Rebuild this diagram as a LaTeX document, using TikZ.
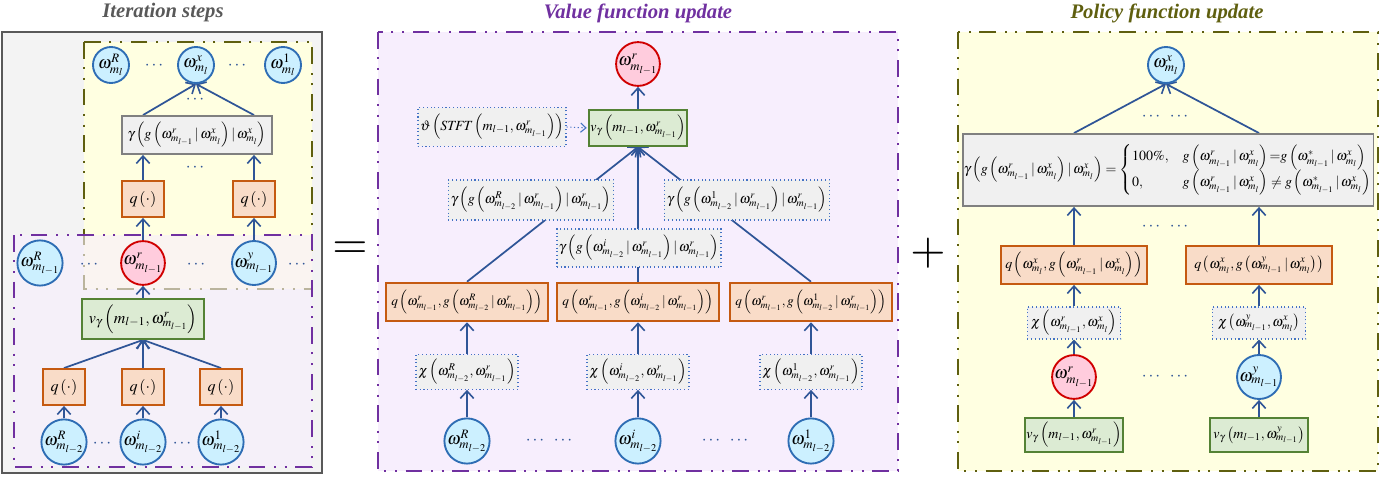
\documentclass[tikz,border=0pt]{standalone}
\usepackage{amsmath}
\usepackage{mathptmx}
\usepackage{fontspec}
\setmainfont{Liberation Serif}
\usetikzlibrary{arrows.meta}
\pgfdeclarelayer{panels}
\pgfdeclarelayer{edges}
\pgfsetlayers{panels,edges,main}
\definecolor{edgeblue}{HTML}{2F5597}
\definecolor{circblue}{HTML}{2E6DB4}
\definecolor{circfill}{HTML}{CCF0FF}
\definecolor{redline}{HTML}{D00000}
\definecolor{redfill}{HTML}{FFCCDD}
\definecolor{orline}{HTML}{C55A11}
\definecolor{orfill}{HTML}{F9DCC8}
\definecolor{grline}{HTML}{548235}
\definecolor{grfill}{HTML}{DCEBD3}
\definecolor{gyline}{HTML}{808080}
\definecolor{gyfill}{HTML}{F0F0F0}
\definecolor{dotline}{HTML}{4472C4}
\definecolor{purp}{HTML}{7030A0}
\definecolor{purfill}{HTML}{F7EEFD}
\definecolor{oliv}{HTML}{5F5F0F}
\definecolor{olfill}{HTML}{FFFFE1}
\definecolor{outgray}{HTML}{595959}
\definecolor{outfill}{HTML}{F3F3F3}
\newcommand{\PP}[1]{\left(#1\right)}
\newcommand{\wm}[2]{\omega^{#1}_{m_{#2}}}
\tikzset{
  circ/.style={circle, draw=circblue, fill=circfill, line width=1.4pt, minimum size=27pt, inner sep=0pt, font=\fontsize{13}{13}\selectfont},
  rcirc/.style={circ, draw=redline, fill=redfill},
  boxbase/.style={rectangle, inner sep=1pt, font=\fontsize{10.5}{12}\selectfont},
  smallf/.style={font=\fontsize{10}{12}\selectfont},
  obox/.style={boxbase, draw=orline, fill=orfill, line width=1.4pt},
  gbox/.style={boxbase, draw=grline, fill=grfill, line width=1.4pt},
  ybox/.style={boxbase, draw=gyline, fill=gyfill, line width=1.4pt},
  dbox/.style={boxbase, draw=dotline, fill=gyfill, line width=0.8pt, dotted},
  arr/.style={draw=edgeblue, line width=1.3pt, -{Straight Barb[length=5.5pt,width=10pt,line width=1.2pt]}},
  darr/.style={draw=dotline, line width=0.8pt, dotted, -{Straight Barb[length=4pt,width=7pt,line width=0.8pt,sep]}},
  dd/.style={text=edgeblue, inner sep=0pt, font=\fontsize{13}{13}\selectfont},
  dashdots/.style={dash pattern=on 12.5pt off 6.5pt on 1.5pt off 6.5pt on 1.5pt off 6.5pt},
  purpanel/.style={draw=purp, line width=2.2pt, fill=purfill, dashdots},
  olpanel/.style={draw=oliv, line width=2.2pt, fill=olfill, dashdots},
  ttl/.style={font=\fontsize{15.5}{15.5}\selectfont\bfseries\itshape}
}
\begin{document}
\begin{tikzpicture}[x=0.75pt,y=-0.75pt]
\useasboundingbox (0,0) rectangle (1386,478);
% titles
\node[ttl, text=outgray] (t1) at (163,13) {Iteration steps};
\node[ttl, text=purp] (t2) at (638,13) {Value function update};
\node[ttl, text=oliv] (t3) at (1167,13) {Policy function update};
\node[font=\fontsize{34}{34}\selectfont] (eq) at (350,250) {$=$};
\node[font=\fontsize{34}{34}\selectfont] (pl) at (928,253) {$+$};

% ---------- left panel ----------
\node[circ] (wR) at (111,65) {$\wm{R}{l}$};
\node[circ] (wx) at (196,65) {$\wm{x}{l}$};
\node[circ] (w1) at (283,65) {$\wm{1}{l}$};
\node[dd] (d1) at (155,66) {$\cdots$};
\node[dd] (d2) at (238,66) {$\cdots$};
\node[dd] (d3) at (196,100) {$\cdots$};
\node[ybox, minimum width=112pt, minimum height=28.5pt] (gL) at (197,135) {$\gamma\PP{g\PP{\wm{r}{l-1}\,|\,\wm{x}{l}}|\,\wm{x}{l}}$};
\node[dd] (d4) at (196,168) {$\cdots$};
\node[obox, minimum width=32pt, minimum height=27pt, font=\fontsize{12}{13}\selectfont] (qa1) at (143,199) {$q\PP{\cdot}$};
\node[obox, minimum width=32pt, minimum height=27pt, font=\fontsize{12}{13}\selectfont] (qa2) at (254,199) {$q\PP{\cdot}$};
\node[circ] (wRl) at (40,263) {$\wm{R}{l-1}$};
\node[rcirc] (wr) at (143,263) {$\wm{r}{l-1}$};
\node[circ] (wy) at (254,263) {$\wm{y}{l-1}$};
\node[dd] (d5) at (90,265) {$\cdots$};
\node[dd] (d6) at (197,265) {$\cdots$};
\node[dd] (d7) at (298,265) {$\cdots$};
\node[gbox, minimum width=91.5pt, minimum height=30pt, font=\fontsize{12}{13}\selectfont] (vL) at (143,319) {$v_\gamma\PP{m_{l-1},\wm{r}{l-1}}$};
\node[obox, minimum width=32pt, minimum height=27pt, font=\fontsize{12}{13}\selectfont] (qb1) at (64,387) {$q\PP{\cdot}$};
\node[obox, minimum width=32pt, minimum height=27pt, font=\fontsize{12}{13}\selectfont] (qb2) at (143,387) {$q\PP{\cdot}$};
\node[obox, minimum width=32pt, minimum height=27pt, font=\fontsize{12}{13}\selectfont] (qb3) at (221,387) {$q\PP{\cdot}$};
\node[circ] (wb1) at (64,442) {$\wm{R}{l-2}$};
\node[circ] (wb2) at (143,442) {$\wm{i}{l-2}$};
\node[circ] (wb3) at (221,442) {$\wm{1}{l-2}$};
\node[dd] (d8) at (103,444) {$\cdots$};
\node[dd] (d9) at (183,444) {$\cdots$};

% ---------- middle panel ----------
\node[rcirc] (mr) at (638,64) {$\wm{r}{l-1}$};
\node[gbox, minimum width=73pt, minimum height=27pt] (vM) at (638,128) {$v_\gamma\PP{m_{l-1},\wm{r}{l-1}}$};
\node[dbox, minimum width=111pt, minimum height=29pt] (st) at (492,127) {$\vartheta\PP{\mathit{STFT}\PP{m_{l-1},\wm{r}{l-1}}}$};
\node[dbox, minimum width=124pt, minimum height=30pt] (gR) at (531,200) {$\gamma\PP{g\PP{\wm{R}{l-2}\,|\,\wm{r}{l-1}}|\,\wm{r}{l-1}}$};
\node[dbox, minimum width=124pt, minimum height=30pt] (g1) at (747,200) {$\gamma\PP{g\PP{\wm{1}{l-2}\,|\,\wm{r}{l-1}}|\,\wm{r}{l-1}}$};
\node[dbox, minimum width=123pt, minimum height=28.5pt] (gi) at (639,248) {$\gamma\PP{g\PP{\wm{i}{l-2}\,|\,\wm{r}{l-1}}|\,\wm{r}{l-1}}$};
\node[obox, smallf, minimum width=121.5pt, minimum height=29pt] (oR) at (467,302) {$q\PP{\wm{r}{l-1},g\PP{\wm{R}{l-2}\,|\,\wm{r}{l-1}}}$};
\node[obox, smallf, minimum width=121.5pt, minimum height=29pt] (oi) at (638,302) {$q\PP{\wm{r}{l-1},g\PP{\wm{i}{l-2}\,|\,\wm{r}{l-1}}}$};
\node[obox, smallf, minimum width=121.5pt, minimum height=29pt] (o1) at (811,302) {$q\PP{\wm{r}{l-1},g\PP{\wm{1}{l-2}\,|\,\wm{r}{l-1}}}$};
\node[dbox, minimum width=76.5pt, minimum height=26pt] (cR) at (467,372) {$\chi\PP{\wm{R}{l-2},\wm{r}{l-1}}$};
\node[dbox, minimum width=76.5pt, minimum height=26pt] (ci) at (638,372) {$\chi\PP{\wm{i}{l-2},\wm{r}{l-1}}$};
\node[dbox, minimum width=76.5pt, minimum height=26pt] (c1) at (811,372) {$\chi\PP{\wm{1}{l-2},\wm{r}{l-1}}$};
\node[circ] (bR) at (467,441) {$\wm{R}{l-2}$};
\node[circ] (bi) at (638,441) {$\wm{i}{l-2}$};
\node[circ] (b1) at (811,441) {$\wm{1}{l-2}$};
\node[dd] (d10) at (536,441) {$\cdots$};
\node[dd] (d11) at (564,441) {$\cdots$};
\node[dd] (d12) at (712,441) {$\cdots$};
\node[dd] (d13) at (740,441) {$\cdots$};

% ---------- policy panel ----------
\node[circ] (px) at (1166,65) {$\wm{x}{l}$};
\node[dd] (d14) at (1152,117) {$\cdots$};
\node[dd] (d15) at (1180,117) {$\cdots$};
\node[ybox, minimum width=307pt, minimum height=54pt] (big) at (1168,170) {$\gamma\PP{g\PP{\wm{r}{l-1}\,|\,\wm{x}{l}}|\,\wm{x}{l}}=\begin{cases}100\%, & g\PP{\wm{r}{l-1}\,|\,\wm{x}{l}}{=}g\PP{\wm{*}{l-1}\,|\,\wm{x}{l}}\\[3pt] 0, & g\PP{\wm{r}{l-1}\,|\,\wm{x}{l}}\neq g\PP{\wm{*}{l-1}\,|\,\wm{x}{l}}\end{cases}$};
\node[dd] (d16) at (1152,227) {$\cdots$};
\node[dd] (d17) at (1180,227) {$\cdots$};
\node[obox, minimum width=109.5pt, minimum height=28.5pt] (po1) at (1074,265) {$q\PP{\wm{x}{l},g\PP{\wm{r}{l-1}\,|\,\wm{x}{l}}}$};
\node[obox, minimum width=109.5pt, minimum height=28.5pt] (po2) at (1259,265) {$q\PP{\wm{x}{l},g\PP{\wm{y}{l-1}\,|\,\wm{x}{l}}}$};
\node[dbox, minimum width=70pt, minimum height=24pt] (pc1) at (1074,323) {$\chi\PP{\wm{r}{l-1},\wm{x}{l}}$};
\node[dbox, minimum width=70pt, minimum height=24pt] (pc2) at (1259,323) {$\chi\PP{\wm{y}{l-1},\wm{x}{l}}$};
\node[rcirc] (pr) at (1074,377) {$\wm{r}{l-1}$};
\node[circ] (py) at (1259,377) {$\wm{y}{l-1}$};
\node[dd] (d18) at (1152,377) {$\cdots$};
\node[dd] (d19) at (1180,377) {$\cdots$};
\node[gbox, minimum width=73pt, minimum height=25.5pt] (pv1) at (1074,435) {$v_\gamma\PP{m_{l-1},\wm{r}{l-1}}$};
\node[gbox, minimum width=73pt, minimum height=25.5pt] (pv2) at (1259,435) {$v_\gamma\PP{m_{l-1},\wm{y}{l-1}}$};

% ---------- panels ----------
\begin{pgfonlayer}{panels}
\draw[draw=outgray, fill=outfill, line width=1.5pt] (2,32) rectangle (322,473);
\draw[olpanel] (84,42) rectangle (312,289);
\draw[purpanel, fill opacity=0.6] (14,235) rectangle (312,467);
\draw[purpanel] (378,32) rectangle (898,471);
\draw[olpanel] (958,32) rectangle (1378,471);
\end{pgfonlayer}

% ---------- edges ----------
\begin{pgfonlayer}{edges}
% left
\draw[arr] (qa1.north |- gL.north) -- (wx.south);
\draw[arr] (qa2.north |- gL.north) -- (wx.south);
\draw[arr] (qa1.north) -- (qa1.north |- gL.south);
\draw[arr] (qa2.north) -- (qa2.north |- gL.south);
\draw[arr] (wr.north) -- (qa1.south);
\draw[arr] (wy.north) -- (qa2.south);
\draw[arr] (vL.north) -- (wr.south);
\draw[arr] (qb1.north) -- (vL.south);
\draw[arr] (qb2.north) -- (vL.south);
\draw[arr] (qb3.north) -- (vL.south);
\draw[arr] (wb1.north) -- (qb1.south);
\draw[arr] (wb2.north) -- (qb2.south);
\draw[arr] (wb3.north) -- (qb3.south);
% middle
\draw[arr] (vM.north) -- (mr.south);
\draw[darr] (st.east) -- (vM.west);
\draw[arr] (oR.north) -- (vM.south);
\draw[arr] (oi.north) -- (vM.south);
\draw[arr] (o1.north) -- (vM.south);
\draw[arr] (cR.north) -- (oR.south);
\draw[arr] (ci.north) -- (oi.south);
\draw[arr] (c1.north) -- (o1.south);
\draw[arr] (bR.north) -- (cR.south);
\draw[arr] (bi.north) -- (ci.south);
\draw[arr] (b1.north) -- (c1.south);
% policy
\draw[arr] (po1.north |- big.north) -- (px.south);
\draw[arr] (po2.north |- big.north) -- (px.south);
\draw[arr] (po1.north) -- (po1.north |- big.south);
\draw[arr] (po2.north) -- (po2.north |- big.south);
\draw[arr] (pc1.north) -- (po1.south);
\draw[arr] (pc2.north) -- (po2.south);
\draw[arr] (pr.north) -- (pc1.south);
\draw[arr] (py.north) -- (pc2.south);
\draw[arr] (pv1.north) -- (pr.south);
\draw[arr] (pv2.north) -- (py.south);
\end{pgfonlayer}
\end{tikzpicture}
\end{document}
